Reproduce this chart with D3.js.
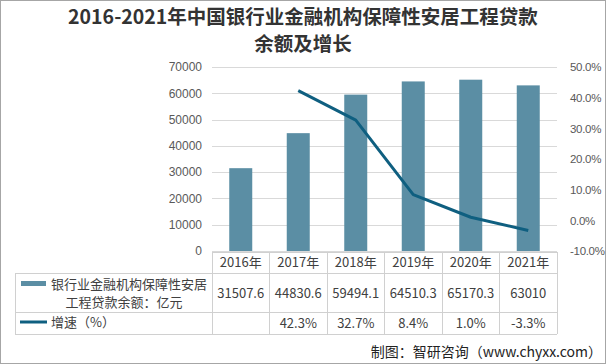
<!DOCTYPE html>
<html><head><meta charset="utf-8">
<script src="https://cdn.jsdelivr.net/npm/d3@7"></script>
<style>
html,body{margin:0;padding:0;background:#fff;}
svg{display:block;font-family:"Noto Sans CJK SC","Noto Sans",sans-serif;}
</style></head>
<body>
<svg id="c" width="606" height="364"></svg>
<script>
const years = ["2016年","2017年","2018年","2019年","2020年","2021年"];
const balances = [31507.6, 44830.6, 59494.1, 64510.3, 65170.3, 63010];
const balanceLabels = ["31507.6","44830.6","59494.1","64510.3","65170.3","63010"];
const growth = [null, 42.3, 32.7, 8.4, 1.0, -3.3];
const growthLabels = ["", "42.3%", "32.7%", "8.4%", "1.0%", "-3.3%"];
const leftTicks = [0,10000,20000,30000,40000,50000,60000,70000];
const rightTicks = [-10,0,10,20,30,40,50];
const titleLines = ["2016-2021年中国银行业金融机构保障性安居工程贷款","余额及增长"];
const seriesNames = [["银行业金融机构保障性安居","工程贷款余额：亿元"],["增速（%）"]];
const footer = "制图：智研咨询（www.chyxx.com）";

const barColor = "#5b8ea4", lineColor = "#0f5f80", gridColor = "#d9d9d9", txt = "#404040";
const svg = d3.select("#c");

svg.append("rect").attr("x",0.5).attr("y",0.5).attr("width",605).attr("height",363)
  .attr("fill","#fff").attr("stroke","#a6a6a6");

// title
svg.selectAll("text.title").data(titleLines).join("text").attr("class","title")
  .attr("x",303).attr("y",(d,i)=>24+i*27).attr("text-anchor","middle")
  .attr("font-size",19.5).attr("font-weight","bold").attr("fill","#333").text(d=>d);

const x = d3.scaleBand().domain(years).range([212,557]).paddingInner(0.6).paddingOuter(0.3);
const y = d3.scaleLinear().domain([0,70000]).range([251,67]);
const y2 = d3.scaleLinear().domain([-10,50]).range([251,67]);

// grid
svg.append("g").selectAll("line").data(leftTicks).join("line")
  .attr("x1",212).attr("x2",557).attr("y1",d=>Math.round(y(d))+0.5).attr("y2",d=>Math.round(y(d))+0.5)
  .attr("stroke",gridColor);

// left axis
const la = svg.append("g").attr("transform","translate(202,0)")
  .call(d3.axisLeft(y).tickValues(leftTicks).tickSize(0).tickPadding(0).tickFormat(d=>String(d)));
la.select(".domain").remove();
la.selectAll("text").attr("font-size",12).attr("fill","#595959").attr("font-family","inherit");

// right axis
const ra = svg.append("g").attr("transform","translate(570,0)")
  .call(d3.axisRight(y2).tickValues(rightTicks).tickSize(0).tickPadding(0).tickFormat(d=>d.toFixed(1)+"%"));
ra.select(".domain").remove();
ra.selectAll("text").attr("font-size",11.5).attr("fill","#595959").attr("font-family","inherit")
  .attr("letter-spacing",-0.3);

// bars
svg.append("g").selectAll("rect").data(balances).join("rect")
  .attr("x",(d,i)=>x(years[i])).attr("width",x.bandwidth())
  .attr("y",d=>y(d)).attr("height",d=>y(0)-y(d)).attr("fill",barColor);

// line
const pts = growth.map((g,i)=>({g,i})).filter(d=>d.g!==null);
svg.append("path").datum(pts)
  .attr("d",d3.line().x(d=>x(years[d.i])+x.bandwidth()/2).y(d=>y2(d.g)))
  .attr("fill","none").attr("stroke",lineColor).attr("stroke-width",3).attr("stroke-linejoin","round");

// table
const colEdges = years.map(d=>x(d)-x.step()*0.3).concat([557]);
const tg = svg.append("g").attr("stroke","#d0d0d0").attr("shape-rendering","crispEdges");
colEdges.forEach(cx=>{
  tg.append("line").attr("x1",cx).attr("x2",cx).attr("y1",252).attr("y2",334);
});
tg.append("line").attr("x1",212).attr("x2",557).attr("y1",252).attr("y2",252);
[273,312,334].forEach(yy=>tg.append("line").attr("x1",15).attr("x2",557).attr("y1",yy).attr("y2",yy));
tg.append("line").attr("x1",15).attr("x2",15).attr("y1",273).attr("y2",334);

const cx = d=>x(d)+x.bandwidth()/2;
svg.append("g").selectAll("text").data(years).join("text")
  .attr("x",d=>cx(d)).attr("y",267).attr("text-anchor","middle")
  .attr("font-size",13).attr("fill",txt).text(d=>d);
svg.append("g").selectAll("text").data(balanceLabels).join("text")
  .attr("x",(d,i)=>cx(years[i])).attr("y",298).attr("text-anchor","middle")
  .attr("font-size",13).attr("fill",txt).text(d=>d);
svg.append("g").selectAll("text").data(growthLabels).join("text")
  .attr("x",(d,i)=>cx(years[i])).attr("y",328).attr("text-anchor","middle")
  .attr("font-size",13).attr("fill",txt).text(d=>d);

// legend
svg.append("rect").attr("x",21).attr("y",281).attr("width",25).attr("height",5).attr("fill",barColor);
svg.append("text").attr("x",129).attr("y",289).attr("text-anchor","middle")
  .attr("font-size",13).attr("fill",txt).text(seriesNames[0][0]);
svg.append("text").attr("x",124).attr("y",307).attr("text-anchor","middle")
  .attr("font-size",13).attr("fill",txt).text(seriesNames[0][1]);
svg.append("line").attr("x1",20).attr("x2",47).attr("y1",322).attr("y2",322)
  .attr("stroke",lineColor).attr("stroke-width",3);
svg.append("text").attr("x",51).attr("y",327).attr("font-size",13).attr("fill",txt).text(seriesNames[1][0]);

// footer
svg.append("text").attr("x",602).attr("y",357).attr("text-anchor","end")
  .attr("font-size",14).attr("fill","#222").text(footer);
</script>
</body></html>
